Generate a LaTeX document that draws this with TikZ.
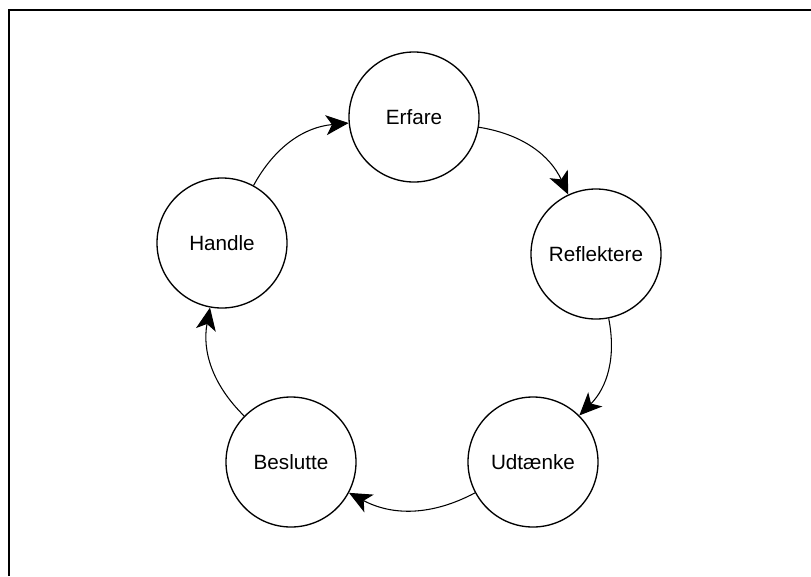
\documentclass[tikz,border=0pt]{standalone}
\usepackage{fontspec}
\setmainfont{Liberation Sans}
\usetikzlibrary{arrows.meta}
\begin{document}
\begin{tikzpicture}[x=0.75pt,y=-0.75pt,
  stage/.style={circle,draw,line width=1pt,minimum size=97.5pt,inner sep=0pt,
    font=\fontsize{15.5}{18}\selectfont},
  flow/.style={line width=0.8pt,-{Stealth[length=17pt,width=15pt,inset=4.5pt]}}]
\useasboundingbox (0,0) rectangle (811,576);
% frame edges
\draw[line width=1.4pt] (9,576) -- (9,10) -- (811,10);
% the five stages of the cycle
\node[stage] (erfare)     at (414,117) {Erfare};
\node[stage] (reflektere) at (596,254) {Reflektere};
\node[stage] (udtaenke)   at (533,462) {Udtænke};
\node[stage] (beslutte)   at (291,462) {Beslutte};
\node[stage] (handle)     at (222,243) {Handle};
% clockwise connectors
\draw[flow] (erfare)     to[bend left=28] (reflektere);
\draw[flow] (reflektere) to[bend left=28] (udtaenke);
\draw[flow] (udtaenke)   to[bend left=28] (beslutte);
\draw[flow] (beslutte)   to[bend left=28] (handle);
\draw[flow] (handle)     to[bend left=28] (erfare);
\end{tikzpicture}
\end{document}
